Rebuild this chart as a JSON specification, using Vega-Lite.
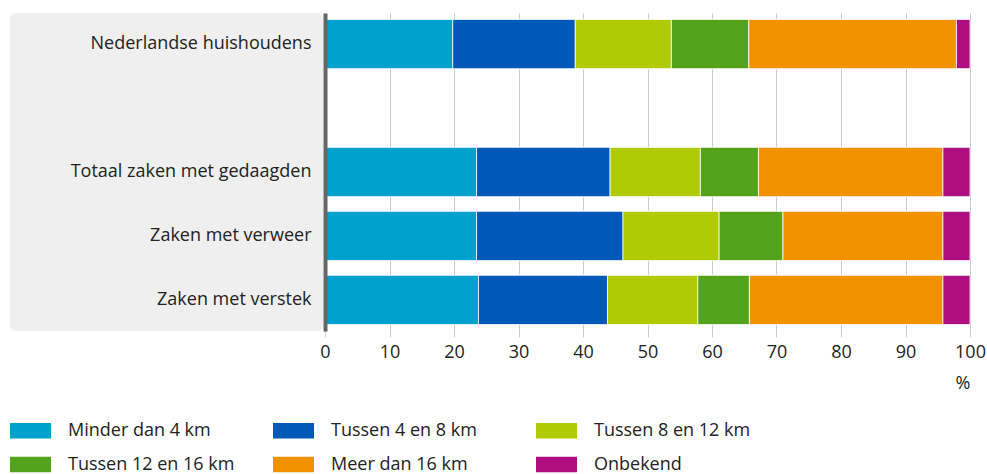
{
  "$schema": "https://vega.github.io/schema/vega-lite/v6.json",
  "background": "white",
  "padding": {"left": 10, "top": 13, "right": 2, "bottom": 0},
  "bounds": "flush",
  "config": {
    "font": "Open Sans",
    "view": {"stroke": null},
    "axis": {"labelFont": "Open Sans", "labelColor": "#222", "labelFontSize": 18, "titleFont": "Open Sans"},
    "legend": {"labelFont": "Open Sans"}
  },
  "data": {
    "values": [
      {"groep": "Nederlandse huishoudens", "afstand": "Minder dan 4 km", "k": 1, "pct": 19.8},
      {"groep": "Nederlandse huishoudens", "afstand": "Tussen 4 en 8 km", "k": 2, "pct": 19.0},
      {"groep": "Nederlandse huishoudens", "afstand": "Tussen 8 en 12 km", "k": 3, "pct": 14.9},
      {"groep": "Nederlandse huishoudens", "afstand": "Tussen 12 en 16 km", "k": 4, "pct": 12.0},
      {"groep": "Nederlandse huishoudens", "afstand": "Meer dan 16 km", "k": 5, "pct": 32.2},
      {"groep": "Nederlandse huishoudens", "afstand": "Onbekend", "k": 6, "pct": 2.1},
      {"groep": "Totaal zaken met gedaagden", "afstand": "Minder dan 4 km", "k": 1, "pct": 23.5},
      {"groep": "Totaal zaken met gedaagden", "afstand": "Tussen 4 en 8 km", "k": 2, "pct": 20.7},
      {"groep": "Totaal zaken met gedaagden", "afstand": "Tussen 8 en 12 km", "k": 3, "pct": 14.0},
      {"groep": "Totaal zaken met gedaagden", "afstand": "Tussen 12 en 16 km", "k": 4, "pct": 9.0},
      {"groep": "Totaal zaken met gedaagden", "afstand": "Meer dan 16 km", "k": 5, "pct": 28.6},
      {"groep": "Totaal zaken met gedaagden", "afstand": "Onbekend", "k": 6, "pct": 4.2},
      {"groep": "Zaken met verweer", "afstand": "Minder dan 4 km", "k": 1, "pct": 23.5},
      {"groep": "Zaken met verweer", "afstand": "Tussen 4 en 8 km", "k": 2, "pct": 22.7},
      {"groep": "Zaken met verweer", "afstand": "Tussen 8 en 12 km", "k": 3, "pct": 14.9},
      {"groep": "Zaken met verweer", "afstand": "Tussen 12 en 16 km", "k": 4, "pct": 9.9},
      {"groep": "Zaken met verweer", "afstand": "Meer dan 16 km", "k": 5, "pct": 24.8},
      {"groep": "Zaken met verweer", "afstand": "Onbekend", "k": 6, "pct": 4.2},
      {"groep": "Zaken met verstek", "afstand": "Minder dan 4 km", "k": 1, "pct": 23.8},
      {"groep": "Zaken met verstek", "afstand": "Tussen 4 en 8 km", "k": 2, "pct": 20.0},
      {"groep": "Zaken met verstek", "afstand": "Tussen 8 en 12 km", "k": 3, "pct": 14.0},
      {"groep": "Zaken met verstek", "afstand": "Tussen 12 en 16 km", "k": 4, "pct": 8.0},
      {"groep": "Zaken met verstek", "afstand": "Meer dan 16 km", "k": 5, "pct": 30.0},
      {"groep": "Zaken met verstek", "afstand": "Onbekend", "k": 6, "pct": 4.2}
    ]
  },
  "spacing": 2,
  "resolve": {"scale": {"y": "shared"}},
  "hconcat": [
    {
      "width": 313,
      "height": 318,
      "view": {"fill": "#efefef", "stroke": null, "cornerRadius": 6},
      "mark": {"type": "point", "opacity": 0},
      "encoding": {
        "y": {
          "field": "groep",
          "type": "nominal",
          "scale": {
            "domain": ["Nederlandse huishoudens", "gap", "Totaal zaken met gedaagden", "Zaken met verweer", "Zaken met verstek"],
            "paddingInner": 0.23,
            "paddingOuter": 0.1
          },
          "axis": {
            "orient": "right",
            "title": null,
            "ticks": false,
            "domain": false,
            "labelAlign": "right",
            "labelPadding": -12,
            "labelBaseline": "middle",
            "labelLimit": 400,
            "labelExpr": "datum.value == 'gap' ? '' : datum.value"
          }
        }
      }
    },
    {
      "width": 645,
      "height": 318,
      "mark": {"type": "bar", "stroke": "#ffffff", "strokeWidth": 0.8},
      "encoding": {
        "y": {
          "field": "groep",
          "type": "nominal",
          "scale": {
            "domain": ["Nederlandse huishoudens", "gap", "Totaal zaken met gedaagden", "Zaken met verweer", "Zaken met verstek"],
            "paddingInner": 0.23,
            "paddingOuter": 0.1
          },
          "axis": {
            "title": null,
            "labels": false,
            "ticks": false,
            "domain": true,
            "domainColor": "#666666",
            "domainWidth": 4,
            "zindex": 1
          }
        },
        "x": {
          "field": "pct",
          "type": "quantitative",
          "stack": "zero",
          "scale": {"domain": [0, 100], "nice": false},
          "axis": {
            "values": [0, 10, 20, 30, 40, 50, 60, 70, 80, 90, 100],
            "title": "%",
            "titleFontSize": 18,
            "titleFontWeight": "normal",
            "titleColor": "#222",
            "titleAnchor": "end",
            "titleAlign": "right",
            "titlePadding": 13,
            "domain": false,
            "grid": true,
            "gridColor": "#cccccc",
            "ticks": true,
            "tickColor": "#cccccc",
            "tickSize": 6,
            "labelPadding": 6,
            "labelFlush": false
          }
        },
        "order": {"field": "k", "type": "quantitative"},
        "color": {
          "field": "afstand",
          "type": "nominal",
          "scale": {
            "domain": ["Minder dan 4 km", "Tussen 4 en 8 km", "Tussen 8 en 12 km", "Tussen 12 en 16 km", "Meer dan 16 km", "Onbekend"],
            "range": ["#00a1cd", "#0058b8", "#afcb05", "#53a31d", "#f39200", "#af0e80"]
          },
          "legend": {
            "orient": "none",
            "legendX": 0,
            "legendY": 397,
            "direction": "horizontal",
            "columns": 3,
            "gridAlign": "all",
            "title": null,
            "symbolType": "M-1,-0.38L1,-0.38L1,0.38L-1,0.38Z",
            "symbolSize": 1681,
            "symbolStrokeWidth": 0,
            "symbolOpacity": 1,
            "labelFontSize": 18,
            "labelColor": "#222",
            "labelOffset": 17,
            "labelLimit": 300,
            "columnPadding": 38,
            "rowPadding": 4
          }
        }
      }
    }
  ]
}
